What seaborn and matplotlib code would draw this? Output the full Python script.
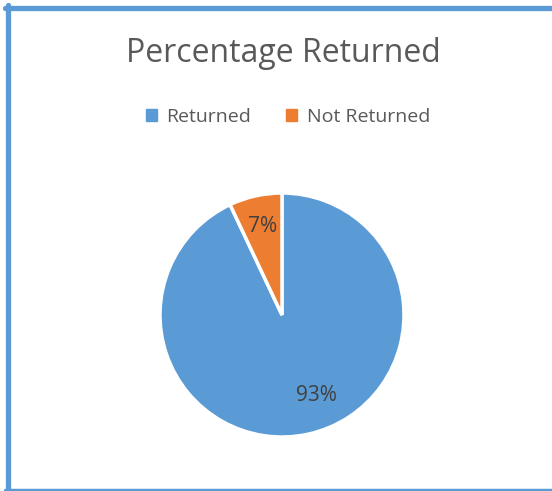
import matplotlib.pyplot as plt
import seaborn as sns
from matplotlib.lines import Line2D
from matplotlib.patches import Patch

sns.set_theme(style="white")
plt.rcParams['font.family'] = ['Open Sans', 'DejaVu Sans']

labels = ['Returned', 'Not Returned']
values = [93, 7]
colors = ['#5B9BD5', '#ED7D31']

W, H = 552, 491
fig = plt.figure(figsize=(W / 100, H / 100), dpi=100)
fig.patch.set_facecolor('white')

# pie area (centre ~ (282, 315) px, radius ~122 px)
ax = fig.add_axes([160 / W, 54 / H, 244 / W, 244 / H])
wedges, texts, autotexts = ax.pie(
    values, colors=colors, startangle=90, counterclock=False,
    autopct='%1.0f%%', pctdistance=0.74,
    wedgeprops=dict(edgecolor='white', linewidth=2.5),
    textprops=dict(color='#404040', fontsize=15),
)
# excel "best fit" puts the big label a bit further right
autotexts[0].set_position((0.28, -0.66))
ax.set_xlim(-1, 1)
ax.set_ylim(-1, 1)
ax.set_aspect('equal')
ax.axis('off')

fig.text(283 / W, 1 - 54 / H, 'Percentage Returned', ha='center', va='center',
         fontsize=23, color='#595959')

handles = [Patch(facecolor=c, edgecolor=c, label=l) for c, l in zip(colors, labels)]
leg = fig.legend(handles=handles, loc='center', bbox_to_anchor=(288 / W, 1 - 117 / H),
                 ncol=2, frameon=False, fontsize=14, handlelength=0.55, handleheight=0.55,
                 handletextpad=0.5, columnspacing=1.8)
for t in leg.get_texts():
    t.set_color('#595959')

# blue chart-area border (left, top, bottom)
bc = '#5B9BD5'
fig.add_artist(Line2D([7.5 / W, 7.5 / W], [0, 1 - 5 / H], color=bc, lw=3.8, transform=fig.transFigure))
fig.add_artist(Line2D([5 / W, 1], [1 - 7.5 / H, 1 - 7.5 / H], color=bc, lw=3.8, transform=fig.transFigure))
fig.add_artist(Line2D([5 / W, 1], [1.5 / H, 1.5 / H], color=bc, lw=2.5, transform=fig.transFigure))

fig.savefig('out.png', dpi=100, facecolor='white')
